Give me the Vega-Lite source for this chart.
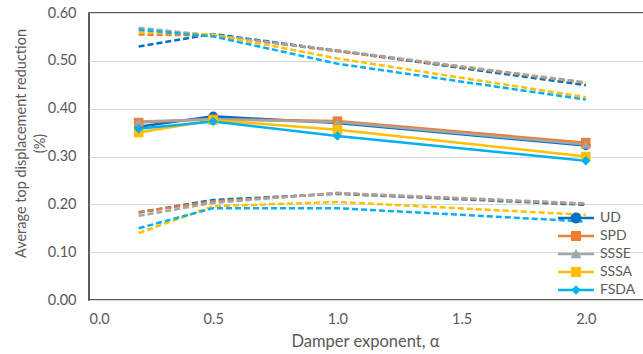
{
  "$schema": "https://vega.github.io/schema/vega-lite/v6.json",
  "autosize": {"type": "none"},
  "padding": {"left": 89, "top": 13, "right": 0, "bottom": 54},
  "width": 621,
  "height": 287,
  "background": "white",
  "config": {
    "font": "Lato",
    "view": {"stroke": "#262626", "strokeWidth": 1.5},
    "axis": {"labelFont": "Lato", "titleFont": "Lato", "labelColor": "#595959", "titleColor": "#595959", "labelFontSize": 14, "titleFontSize": 15, "titleFontWeight": "normal", "ticks": false, "domain": false, "gridColor": "#D9D9D9", "gridWidth": 1},
    "legend": {"labelFont": "Lato", "labelColor": "#595959", "labelFontSize": 14}
  },
  "data": {"values": [
    {"series": "UD", "group": "upper", "alpha": 0.2, "value": 0.530},
    {"series": "UD", "group": "upper", "alpha": 0.5, "value": 0.556},
    {"series": "UD", "group": "upper", "alpha": 1.0, "value": 0.521},
    {"series": "UD", "group": "upper", "alpha": 2.0, "value": 0.449},
    {"series": "UD", "group": "mean", "alpha": 0.2, "value": 0.362},
    {"series": "UD", "group": "mean", "alpha": 0.5, "value": 0.384},
    {"series": "UD", "group": "mean", "alpha": 1.0, "value": 0.370},
    {"series": "UD", "group": "mean", "alpha": 2.0, "value": 0.323},
    {"series": "UD", "group": "lower", "alpha": 0.2, "value": 0.183},
    {"series": "UD", "group": "lower", "alpha": 0.5, "value": 0.209},
    {"series": "UD", "group": "lower", "alpha": 1.0, "value": 0.222},
    {"series": "UD", "group": "lower", "alpha": 2.0, "value": 0.199},
    {"series": "SPD", "group": "upper", "alpha": 0.2, "value": 0.555},
    {"series": "SPD", "group": "upper", "alpha": 0.5, "value": 0.553},
    {"series": "SPD", "group": "upper", "alpha": 1.0, "value": 0.520},
    {"series": "SPD", "group": "upper", "alpha": 2.0, "value": 0.454},
    {"series": "SPD", "group": "mean", "alpha": 0.2, "value": 0.371},
    {"series": "SPD", "group": "mean", "alpha": 0.5, "value": 0.378},
    {"series": "SPD", "group": "mean", "alpha": 1.0, "value": 0.374},
    {"series": "SPD", "group": "mean", "alpha": 2.0, "value": 0.329},
    {"series": "SPD", "group": "lower", "alpha": 0.2, "value": 0.184},
    {"series": "SPD", "group": "lower", "alpha": 0.5, "value": 0.206},
    {"series": "SPD", "group": "lower", "alpha": 1.0, "value": 0.223},
    {"series": "SPD", "group": "lower", "alpha": 2.0, "value": 0.201},
    {"series": "SSSE", "group": "upper", "alpha": 0.2, "value": 0.569},
    {"series": "SSSE", "group": "upper", "alpha": 0.5, "value": 0.553},
    {"series": "SSSE", "group": "upper", "alpha": 1.0, "value": 0.522},
    {"series": "SSSE", "group": "upper", "alpha": 2.0, "value": 0.455},
    {"series": "SSSE", "group": "mean", "alpha": 0.2, "value": 0.373},
    {"series": "SSSE", "group": "mean", "alpha": 0.5, "value": 0.378},
    {"series": "SSSE", "group": "mean", "alpha": 1.0, "value": 0.372},
    {"series": "SSSE", "group": "mean", "alpha": 2.0, "value": 0.325},
    {"series": "SSSE", "group": "lower", "alpha": 0.2, "value": 0.176},
    {"series": "SSSE", "group": "lower", "alpha": 0.5, "value": 0.203},
    {"series": "SSSE", "group": "lower", "alpha": 1.0, "value": 0.224},
    {"series": "SSSE", "group": "lower", "alpha": 2.0, "value": 0.202},
    {"series": "SSSA", "group": "upper", "alpha": 0.2, "value": 0.560},
    {"series": "SSSA", "group": "upper", "alpha": 0.5, "value": 0.555},
    {"series": "SSSA", "group": "upper", "alpha": 1.0, "value": 0.505},
    {"series": "SSSA", "group": "upper", "alpha": 2.0, "value": 0.424},
    {"series": "SSSA", "group": "mean", "alpha": 0.2, "value": 0.350},
    {"series": "SSSA", "group": "mean", "alpha": 0.5, "value": 0.376},
    {"series": "SSSA", "group": "mean", "alpha": 1.0, "value": 0.356},
    {"series": "SSSA", "group": "mean", "alpha": 2.0, "value": 0.300},
    {"series": "SSSA", "group": "lower", "alpha": 0.2, "value": 0.140},
    {"series": "SSSA", "group": "lower", "alpha": 0.5, "value": 0.196},
    {"series": "SSSA", "group": "lower", "alpha": 1.0, "value": 0.205},
    {"series": "SSSA", "group": "lower", "alpha": 2.0, "value": 0.178},
    {"series": "FSDA", "group": "upper", "alpha": 0.2, "value": 0.565},
    {"series": "FSDA", "group": "upper", "alpha": 0.5, "value": 0.551},
    {"series": "FSDA", "group": "upper", "alpha": 1.0, "value": 0.494},
    {"series": "FSDA", "group": "upper", "alpha": 2.0, "value": 0.419},
    {"series": "FSDA", "group": "mean", "alpha": 0.2, "value": 0.358},
    {"series": "FSDA", "group": "mean", "alpha": 0.5, "value": 0.373},
    {"series": "FSDA", "group": "mean", "alpha": 1.0, "value": 0.343},
    {"series": "FSDA", "group": "mean", "alpha": 2.0, "value": 0.291},
    {"series": "FSDA", "group": "lower", "alpha": 0.2, "value": 0.150},
    {"series": "FSDA", "group": "lower", "alpha": 0.5, "value": 0.192},
    {"series": "FSDA", "group": "lower", "alpha": 1.0, "value": 0.192},
    {"series": "FSDA", "group": "lower", "alpha": 2.0, "value": 0.164}
  ]},
  "encoding": {
    "x": {"field": "alpha", "type": "quantitative", "scale": {"domain": [0, 2.5], "nice": false},
      "axis": {"values": [0, 0.5, 1, 1.5, 2], "format": ".1f", "grid": false, "labelPadding": 12, "labelFontSize": 14.5, "title": "Damper exponent, α", "titleFontSize": 16.5, "titleX": 276, "titleY": 46, "titleBaseline": "alphabetic", "titleAnchor": null, "titleAlign": "center"}},
    "y": {"field": "value", "type": "quantitative", "scale": {"domain": [0, 0.6], "nice": false},
      "axis": {"values": [0, 0.1, 0.2, 0.3, 0.4, 0.5, 0.6], "format": ".2f", "labelPadding": 13, "labelFontSize": 14.5, "title": ["Average top displacement reduction", "(%)"], "titleFontSize": 14.5, "titleAngle": -90, "titleX": -64, "titleY": 130, "titleAlign": "center", "titleBaseline": "alphabetic", "titleLineHeight": 19}}
  },
  "layer": [
    {
      "transform": [{"filter": "datum.group !== 'mean'"}],
      "mark": {"type": "line", "strokeWidth": 2.5, "strokeDash": [6, 3]},
      "encoding": {
        "color": {"field": "series", "type": "nominal", "scale": {"domain": ["UD", "SPD", "SSSE", "SSSA", "FSDA"], "range": ["#0070C0", "#ED7D31", "#A5A5A5", "#FFC000", "#00B0F0"]}, "legend": null},
        "detail": {"field": "group"}}
    },
    {
      "transform": [{"filter": "datum.group === 'mean'"}],
      "mark": {"type": "line", "strokeWidth": 2.5},
      "encoding": {
        "color": {"field": "series", "type": "nominal", "legend": null}
      }
    },
    {
      "transform": [{"filter": "datum.group === 'mean'"}],
      "mark": {"type": "point", "filled": true, "opacity": 1, "size": 90},
      "encoding": {
        "color": {"field": "series", "type": "nominal", "legend": null},
        "shape": {"field": "series", "type": "nominal", "scale": {"domain": ["UD", "SPD", "SSSE", "SSSA", "FSDA"], "range": ["circle", "square", "triangle-up", "square", "diamond"]}, "legend": null}
      }
    },
    {
      "transform": [{"filter": "datum.group === 'none'"}],
      "mark": {"type": "point", "filled": true, "opacity": 1, "size": 144},
      "encoding": {
        "color": {"field": "series", "type": "nominal",
          "legend": {"title": null, "orient": "none", "legendX": 492, "legendY": 198, "padding": 0, "symbolSize": 144, "symbolStrokeWidth": 0, "labelOffset": 5, "rowPadding": 4}},
        "shape": {"field": "series", "type": "nominal", "scale": {"domain": ["UD", "SPD", "SSSE", "SSSA", "FSDA"], "range": [
          "M-5,-0.21H1V0.21H-5ZM-2.9,0A0.9,0.9 0 1,1 -1.1,0A0.9,0.9 0 1,1 -2.9,0Z",
          "M-5,-0.21H1V0.21H-5ZM-2.83,-0.83H-1.17V0.83H-2.83Z",
          "M-5,-0.21H1V0.21H-5ZM-2,-0.85L-1.1,0.7H-2.9Z",
          "M-5,-0.21H1V0.21H-5ZM-2.83,-0.83H-1.17V0.83H-2.83Z",
          "M-5,-0.21H1V0.21H-5ZM-2,-0.8L-1.2,0L-2,0.8L-2.8,0Z"
        ]},
          "legend": {"title": null, "orient": "none", "legendX": 492, "legendY": 198, "padding": 0, "symbolSize": 144, "symbolStrokeWidth": 0, "labelOffset": 5, "rowPadding": 4}}
      }
    }
  ],
  "resolve": {"scale": {"shape": "independent"}, "legend": {"color": "independent", "shape": "independent"}}
}
